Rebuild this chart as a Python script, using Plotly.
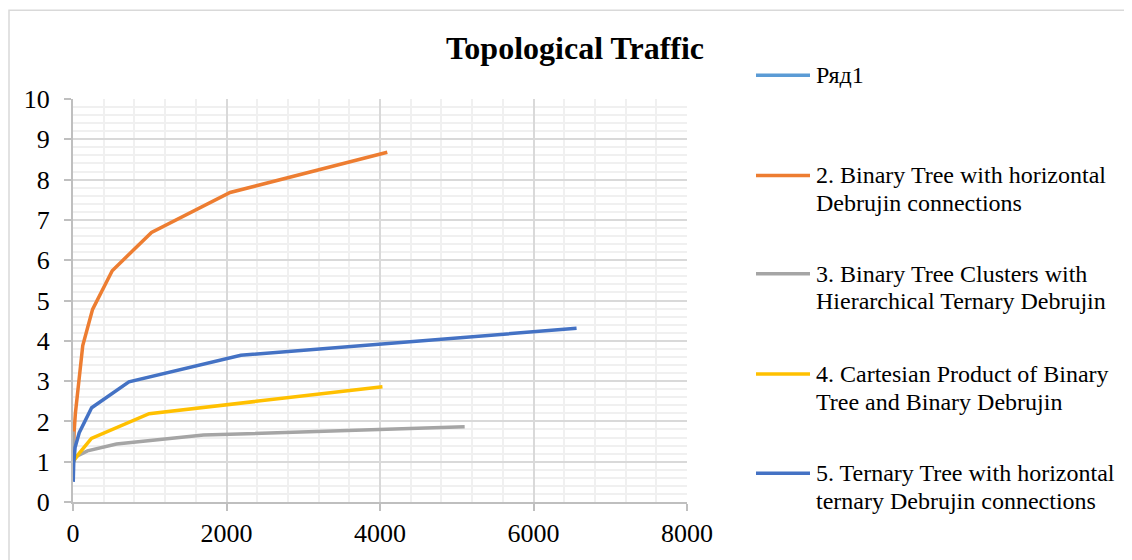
import plotly.graph_objects as go

# values
binary_debrujin_x = [1, 3, 7, 15, 31, 63, 127, 255, 511, 1023, 2047, 4095]
binary_debrujin_y = [1.0, 1.2, 1.45, 1.75, 2.2, 2.8, 3.88, 4.78, 5.74, 6.69, 7.68, 8.68]

clusters_x = [1, 7, 21, 63, 189, 567, 1701, 5103]
clusters_y = [1.75, 1.0, 1.08, 1.15, 1.27, 1.44, 1.66, 1.87]

cartesian_x = [2, 12, 56, 240, 992, 4032]
cartesian_y = [1.0, 1.03, 1.15, 1.58, 2.19, 2.86]

ternary_x = [3, 9, 27, 81, 243, 729, 2187, 6561]
ternary_y = [0.5, 0.95, 1.35, 1.72, 2.34, 2.98, 3.64, 4.31]

legend_labels = [
    "Ряд1",
    "2. Binary Tree with horizontal\nDebrujin connections",
    "3. Binary Tree Clusters with\nHierarchical Ternary Debrujin",
    "4. Cartesian Product of Binary\nTree and Binary Debrujin",
    "5. Ternary Tree with horizontal\nternary Debrujin connections",
]
colors = ['#5B9BD5', '#ED7D31', '#A5A5A5', '#FFC000', '#4472C4']

FONT = "Liberation Serif, Times New Roman, serif"

series = [
    (binary_debrujin_x, binary_debrujin_y, colors[1]),
    (clusters_x, clusters_y, colors[2]),
    (cartesian_x, cartesian_y, colors[3]),
    (ternary_x, ternary_y, colors[4]),
]

fig = go.Figure()
for xs, ys, color in series:
    fig.add_trace(go.Scatter(
        x=xs,
        y=ys,
        mode='lines',
        line=dict(color=color, width=3.5),
        showlegend=False,
        hoverinfo='x+y'
    ))

# the page body has an 8px margin, so the figure is drawn 8px in from the corner
OFF = 8
W, H = 1132 - OFF, 560 - OFF

# plot area in window pixels: x 73..687, y 99..505
left, right, top, bottom = 73, 687, 99, 505


def px_x(p):
    return (p - left) / (right - left)


def px_y(p):
    return (bottom - p) / (bottom - top)


# hand-built legend, Excel spaces entries ~100px apart
entry_y = [75, 176, 275, 376, 476]
shapes = []
annotations = []
for label, color, yc in zip(legend_labels, colors, entry_y):
    shapes.append(dict(
        type='line', xref='paper', yref='paper',
        x0=px_x(756), x1=px_x(810), y0=px_y(yc), y1=px_y(yc),
        line=dict(color=color, width=3.5)
    ))
    for i, line in enumerate(label.split("\n")):
        annotations.append(dict(
            text=line, xref='paper', yref='paper',
            x=px_x(814), y=px_y(yc + 28 * i),
            xanchor='left', yanchor='middle', showarrow=False,
            font=dict(family=FONT, size=24, color='black')
        ))

# chart border (only top and left edges are inside the frame)
shapes.append(dict(
    type='rect', xref='paper', yref='paper',
    x0=px_x(9), x1=px_x(1145), y0=px_y(9.5), y1=px_y(575),
    line=dict(color='#D9D9D9', width=1.5), layer='below'
))

axis_common = dict(
    showgrid=True,
    gridcolor='#D9D9D9',
    gridwidth=1.5,
    zeroline=False,
    showline=True,
    linecolor='#BFBFBF',
    linewidth=2,
    ticks='outside',
    ticklen=7,
    tickwidth=1.5,
    tickcolor='#BFBFBF',
    tickfont=dict(family=FONT, size=26, color='black'),
)

fig.update_layout(
    width=W,
    height=H,
    margin=dict(l=left - OFF, r=1132 - right, t=top - OFF, b=560 - bottom),
    paper_bgcolor='white',
    plot_bgcolor='white',
    title=dict(
        text="<b>Topological Traffic</b>",
        x=(575 - OFF) / W, y=1 - (48 - OFF) / H,
        xanchor='center', yanchor='middle',
        font=dict(family=FONT, size=32, color='black')
    ),
    xaxis=dict(
        range=[0, 8000], dtick=2000,
        minor=dict(dtick=400, showgrid=True, gridcolor='#F0F0F0', gridwidth=1.5),
        **axis_common
    ),
    yaxis=dict(
        range=[0, 10], dtick=1,
        ticklabelstandoff=9,
        minor=dict(dtick=0.2, showgrid=True, gridcolor='#F0F0F0', gridwidth=1.5),
        **axis_common
    ),
    shapes=shapes,
    annotations=annotations,
    showlegend=False,
)

fig.write_html("out.html")
